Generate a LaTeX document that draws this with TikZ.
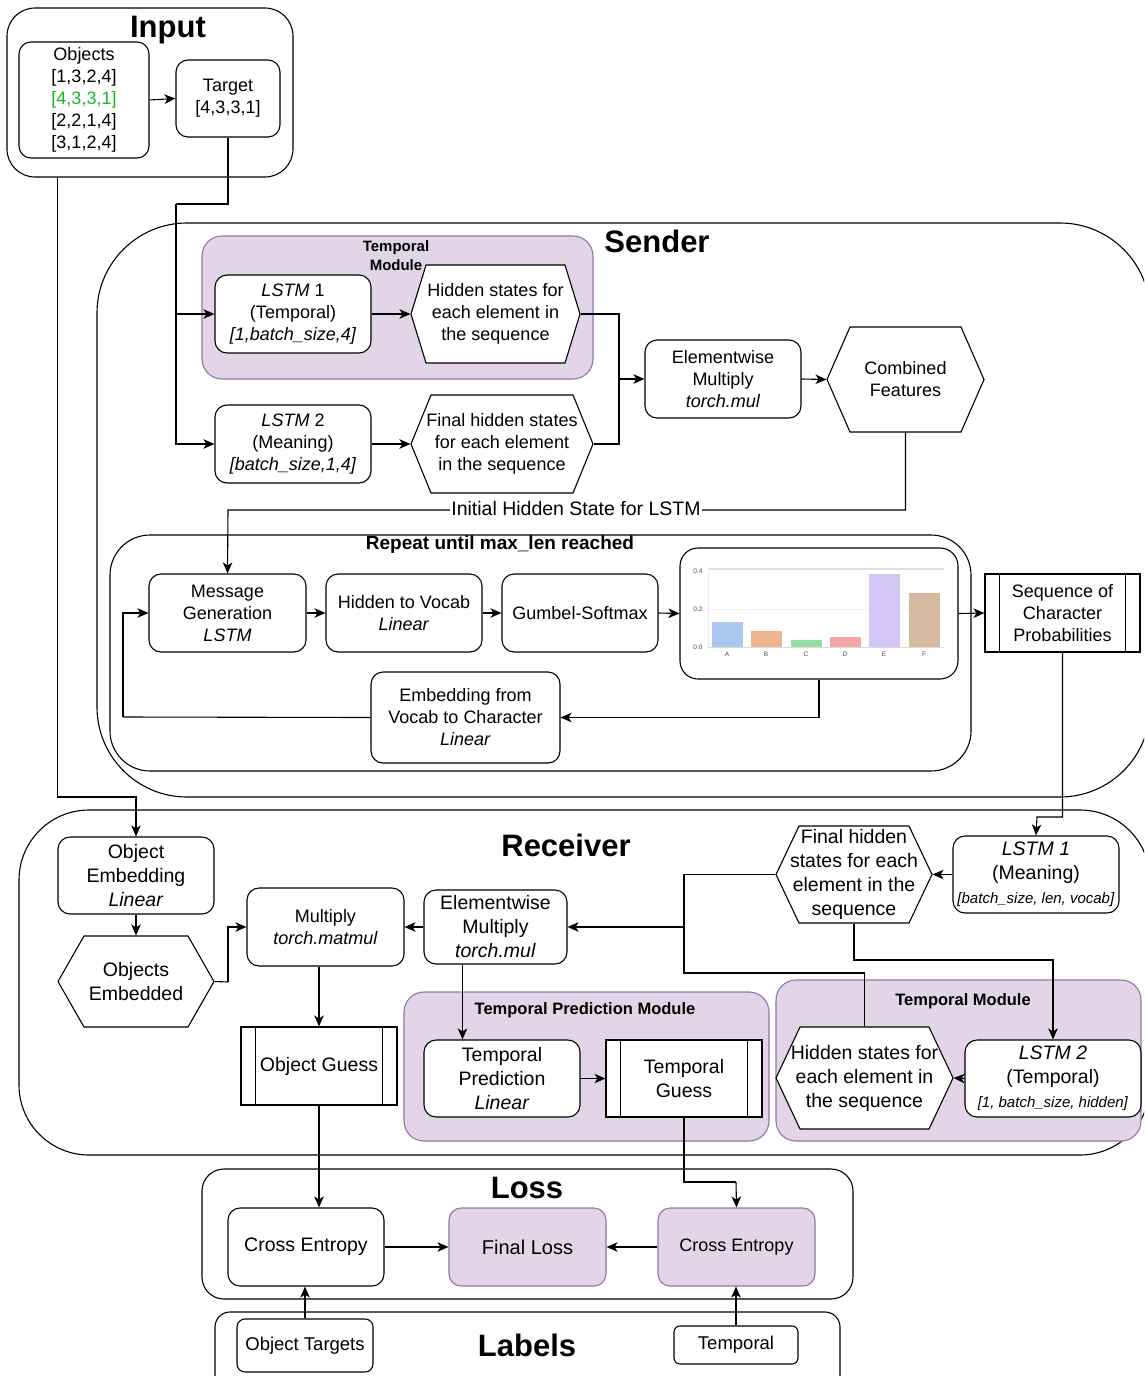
\documentclass[tikz,border=0pt]{standalone}
\usepackage{fontspec}
\setmainfont{Liberation Sans}
\usetikzlibrary{arrows.meta,calc}
\definecolor{pfill}{HTML}{E1D5E7}
\definecolor{pdraw}{HTML}{9673A6}
\definecolor{okgreen}{HTML}{1DB81D}
\definecolor{barA}{HTML}{ABC9EE}
\definecolor{barB}{HTML}{EFB590}
\definecolor{barC}{HTML}{98DCA6}
\definecolor{barD}{HTML}{F3A8A5}
\definecolor{barE}{HTML}{D4C6F6}
\definecolor{barF}{HTML}{D5B9A0}
\newcommand{\hexnode}[8]{%
 \draw[hexl] (#2-#4,#3) -- (#2-#4+#6,#3-#5) -- (#2+#4-#6,#3-#5) -- (#2+#4,#3) -- (#2+#4-#6,#3+#5) -- (#2-#4+#6,#3+#5) -- cycle;
 \node[tx,#7,minimum width=2*#4,minimum height=2*#5] (#1) at (#2,#3) {#8};}
\newcommand{\procbars}[1]{%
 \draw ([xshift=15pt]#1.north west) -- ([xshift=15pt]#1.south west);
 \draw ([xshift=-15pt]#1.north east) -- ([xshift=-15pt]#1.south east);}
\begin{document}
\begin{tikzpicture}[x=1pt,y=-1pt,line width=1.1pt,
 box/.style={draw, rounded corners=12pt, fill=white, align=center, inner sep=0pt},
 pbox/.style={draw, fill=white, align=center, inner sep=0pt},
 purp/.style={draw=pdraw, fill=pfill, inner sep=0pt},
 cont/.style={draw, inner sep=0pt},
 tx/.style={align=center, inner sep=0pt},
 hexl/.style={draw, fill=white, line join=miter},
 fA/.style={font=\fontsize{18}{22}\selectfont},
 fB/.style={font=\fontsize{19.5}{24}\selectfont},
 ttl/.style={font=\fontsize{31}{36}\selectfont\bfseries, inner sep=0pt},
 mtl/.style={font=\fontsize{16.5}{19}\selectfont\bfseries, inner sep=0pt, align=center},
 arr/.style={-{Stealth[length=11pt,width=9.5pt,inset=3pt]}},
 small/.style={font=\fontsize{6.5}{7}\selectfont, text=black!70, inner sep=0pt}]
\useasboundingbox (0,0) rectangle (1144,1376);
\clip (0,0) rectangle (1144,1376);

% ---------- containers ----------
\node[cont, rounded corners=28pt, minimum width=286, minimum height=169] (input) at (150,92.5) {};
\node[cont, rounded corners=90pt, minimum width=1053, minimum height=574] (sender) at (623.5,510) {};
\node[cont, rounded corners=40pt, minimum width=861, minimum height=236] (repeat) at (540.5,653) {};
\node[cont, rounded corners=70pt, minimum width=1131, minimum height=345] (receiver) at (584.5,982.5) {};
\node[cont, rounded corners=22pt, minimum width=651, minimum height=130] (loss) at (527.5,1234) {};
\node[cont, rounded corners=15pt, minimum width=625, minimum height=80] (labels) at (527.5,1352) {};
\node[purp, rounded corners=20pt, minimum width=391, minimum height=143] (tmods) at (397.5,307.5) {};
\node[purp, rounded corners=20pt, minimum width=365, minimum height=161] (tmodr) at (958.5,1060.5) {};
\node[purp, rounded corners=20pt, minimum width=365, minimum height=149] (tpm) at (586.5,1066.5) {};

% ---------- titles ----------
\node[ttl] (inputT) at (168,30) {Input};
\node[ttl] (senderT) at (657,241) {Sender};
\node[ttl] (receiverT) at (566,845) {Receiver};
\node[ttl] (lossT) at (527,1188) {Loss};
\node[ttl] (labelsT) at (527,1345) {Labels};
\node[font=\fontsize{15}{19}\selectfont\bfseries, inner sep=0pt, align=center] (tmodsT) at (396,256) {Temporal\\Module};
\node[mtl] (tmodrT) at (963,1001) {Temporal Module};
\node[mtl] (tpmT) at (585,1010) {Temporal Prediction Module};
\node[font=\fontsize{19}{22}\selectfont\bfseries, inner sep=0pt] (repeatT) at (500,545) {Repeat until max\_len reached};

% ---------- input ----------
\node[box, fA, minimum width=130, minimum height=116] (objects) at (84,100) {Objects\\{}[1,3,2,4]\\\textcolor{okgreen}{[4,3,3,1]}\\{}[2,2,1,4]\\{}[3,1,2,4]};
\node[box, fA, minimum width=104, minimum height=77] (target) at (228,98.5) {Target\\{}[4,3,3,1]};

% ---------- sender ----------
\node[box, fA, minimum width=156, minimum height=78] (lstm1s) at (293,314) {\textit{LSTM} 1\\(Temporal)\\\textit{[1,batch\_size,4]}};
\hexnode{hid1}{495.5}{314}{84.5}{49}{15}{fA}{Hidden states for\\each element in\\the sequence}
\node[box, fA, minimum width=156, minimum height=78] (lstm2s) at (293,444) {\textit{LSTM} 2\\(Meaning)\\\textit{[batch\_size,1,4]}};
\hexnode{fin1}{502}{444}{91}{49}{20}{fA}{Final hidden states\\for each element\\in the sequence}
\node[box, fA, minimum width=156, minimum height=78] (elem) at (723,379) {Elementwise\\Multiply\\\textit{torch.mul}};
\hexnode{comb}{905.5}{379.5}{78.5}{52.5}{23}{fA}{Combined\\Features}

\node[box, fA, minimum width=157, minimum height=78] (msg) at (227.5,613) {Message\\Generation\\\textit{LSTM}};
\node[box, fA, minimum width=156, minimum height=78] (hv) at (404,613) {Hidden to Vocab\\\textit{Linear}};
\node[box, fA, minimum width=156, minimum height=78] (gum) at (580,613) {Gumbel-Softmax};
\node[box, rounded corners=18pt, minimum width=278, minimum height=131] (chart) at (819,613.5) {};
\node[box, fA, minimum width=189, minimum height=91] (emb) at (465.5,717.5) {Embedding from\\Vocab to Character\\\textit{Linear}};
\node[pbox, fA, minimum width=155, minimum height=78] (seq) at (1062.5,613) {Sequence of\\Character\\Probabilities};
\procbars{seq}

% chart
\draw[black!12, line width=1.6pt] (708,569) -- (944,569);
\draw[black!5, line width=0.6pt] (708,609) -- (944,609);
\draw[black!8, line width=0.6pt] (708,568) -- (708,647);
\foreach \cx/\v/\c in {727/0.135/barA, 766/0.09/barB, 806/0.04/barC, 845/0.055/barD, 884/0.39/barE, 924/0.29/barF}
  {\filldraw[fill=\c, draw=white, line width=0.8pt] (\cx-16,647) rectangle (\cx+16,647-190*\v);}
\draw[black!15, line width=0.6pt] (708,647) -- (944,647);
\foreach \cx/\l in {727/A, 766/B, 806/C, 845/D, 884/E, 924/F}
  {\node[small] (lab\l) at (\cx,654) {\l};}
\node[small] (y04) at (698,571) {0.4};
\node[small] (y02) at (698,609) {0.2};
\node[small] (y00) at (698,647) {0.0};

% ---------- receiver ----------
\node[box, fB, minimum width=156, minimum height=77] (objemb) at (136,875.5) {Object\\Embedding\\\textit{Linear}};
\hexnode{objhex}{136}{981.5}{78}{45.5}{26}{fB}{Objects\\Embedded}
\node[box, fA, minimum width=157, minimum height=78] (mult) at (325.5,927) {Multiply\\\textit{torch.matmul}};
\node[pbox, fB, minimum width=156, minimum height=78] (objguess) at (319,1066) {Object Guess};
\procbars{objguess}
\node[box, fB, minimum width=143, minimum height=74] (elemr) at (495.5,927) {Elementwise\\Multiply\\\textit{torch.mul}};
\hexnode{finr}{854}{874.5}{78}{48.5}{23}{fB}{Final hidden\\states for each\\element in the\\sequence}
\node[box, fB, minimum width=166, minimum height=77] (lstm1r) at (1036,874.5) {\textit{LSTM 1}\\(Meaning)\\{\fontsize{15}{18}\selectfont\textit{[batch\_size, len, vocab]}}};
\hexnode{hidr}{864.5}{1078}{88.5}{51}{24}{fB}{Hidden states for\\each element in\\the sequence}
\node[box, fB, minimum width=176, minimum height=77] (lstm2r) at (1053,1078.5) {\textit{LSTM 2}\\(Temporal)\\{\fontsize{15}{18}\selectfont\textit{[1, batch\_size, hidden]}}};
\node[box, fB, minimum width=156, minimum height=77] (tp) at (502,1078.5) {Temporal\\Prediction\\\textit{Linear}};
\node[pbox, fB, minimum width=156, minimum height=77] (tguess) at (684,1078.5) {Temporal\\Guess};
\procbars{tguess}

% ---------- loss & labels ----------
\node[box, font=\fontsize{19.5}{24}\selectfont, minimum width=156, minimum height=78] (ce1) at (306,1247) {Cross Entropy};
\node[box, draw=pdraw, fill=pfill, font=\fontsize{20}{24}\selectfont, minimum width=157, minimum height=78] (floss) at (527.5,1247) {Final Loss};
\node[box, draw=pdraw, fill=pfill, font=\fontsize{18}{22}\selectfont, minimum width=157, minimum height=78] (ce2) at (736.5,1247) {Cross Entropy};
\node[box, rounded corners=8pt, font=\fontsize{18.5}{22}\selectfont, minimum width=136, minimum height=53] (objtgt) at (305,1345.5) {Object Targets};
\node[box, rounded corners=6pt, font=\fontsize{18.5}{22}\selectfont, minimum width=124, minimum height=38] (temptgt) at (736,1345) {Temporal};

% ---------- connectors ----------
\coordinate (j1) at (176,204);
\coordinate (j2) at (619,379);
\coordinate (k1) at (136,797);
\coordinate (k2) at (228,510);
\coordinate (k3) at (123,717);
\coordinate (k4) at (1037,817);
\coordinate (k5) at (1053,960);
\coordinate (k6) at (684,973);
\coordinate (k7) at (684,927);
\coordinate (k8) at (228,982);
\coordinate (k9) at (736,1182);

\draw[arr] (objects.east) -- (target.west);
\draw (target.south) |- (j1);
\draw[arr] (j1) |- (lstm1s.west);
\draw[arr] (j1) |- (lstm2s.west);
\draw[arr] ([xshift=51pt]input.south west) |- (k1) -- (objemb.north);
\draw[arr] (lstm1s.east) -- (hid1.west);
\draw[arr] (lstm2s.east) -- (fin1.west);
\draw (hid1.east) -| (j2);
\draw (fin1.east) -| (j2);
\draw[arr] (j2) -- (elem.west);
\draw[arr] (elem.east) -- (comb.west);
\draw[arr] (comb.south) |- (k2) -- (msg.north);
\node[fill=white, inner sep=1pt, font=\fontsize{19.5}{22}\selectfont] (initlbl) at (576,509) {Initial Hidden State for LSTM};
\draw[arr] (msg.east) -- (hv.west);
\draw[arr] (hv.east) -- (gum.west);
\draw[arr] (gum.east) -- (chart.west);
\draw[arr] (chart.east) -- (seq.west);
\draw[arr] (chart.south) |- (emb.east);
\draw (emb.west) -- (k3);
\draw[arr] (k3) |- (msg.west);
\draw[arr] (seq.south) |- (k4) -- (lstm1r.north);

\draw[arr] (lstm1r.west) -- (finr.east);
\draw[arr] (finr.south) |- (k5) -- (lstm2r.north);
\draw[arr] (lstm2r.west) -- (hidr.east);
\draw (hidr.north) |- (k6) |- (finr.west);
\draw[arr] (k7) -- (elemr.east);
\draw[arr] (elemr.west) -- (mult.east);
\draw[arr] (objemb.south) -- (objhex.north);
\draw (objhex.east) -- (k8);
\draw[arr] (k8) |- (mult.west);
\draw[arr] (mult.south -| objguess.north) -- (objguess.north);
\draw[arr] ([xshift=-33pt]elemr.south) -- ([xshift=-33pt]elemr.south |- tp.north);
\draw[arr] (tp.east) -- (tguess.west);

\draw[arr] (objguess.south) -- (objguess.south |- ce1.north);
\draw (tguess.south) |- (k9);
\draw[arr] (k9) -- (ce2.north);
\draw[arr] (ce1.east) -- (floss.west);
\draw[arr] (ce2.west) -- (floss.east);
\draw[arr] (objtgt.north) -- (objtgt.north |- ce1.south);
\draw[arr] (temptgt.north) -- (temptgt.north |- ce2.south);
\end{tikzpicture}
\end{document}
